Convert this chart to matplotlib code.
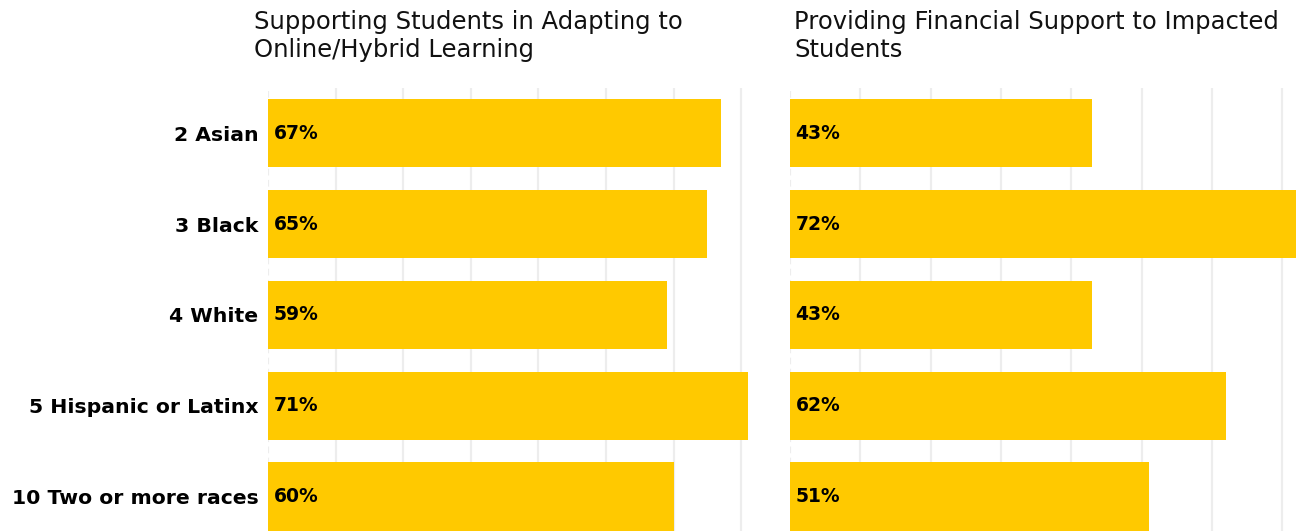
import matplotlib.pyplot as plt

groups = ["2 Asian", "3 Black", "4 White", "5 Hispanic or Latinx", "10 Two or more races"]
online_support = [67, 65, 59, 71, 60]
financial_support = [43, 72, 43, 62, 51]
titles = ["Supporting Students in Adapting to\nOnline/Hybrid Learning",
          "Providing Financial Support to Impacted\nStudents"]

BAR = "#FFC900"
GRID = "#EDEDED"

fig = plt.figure(figsize=(12.99, 5.31), dpi=100)
W, H = 1299, 531

# axes placed in pixel terms: left edge, right edge, x max, values
panels = [
    (268, 758, 72.5, online_support),
    (790, 1299, 72.4, financial_support),
]

ypos = list(range(len(groups)))
for i, (x0, x1, xmax, vals) in enumerate(panels):
    ax = fig.add_axes([x0 / W, 0, (x1 - x0) / W, 1 - 88 / H])
    ax.barh(ypos, vals, height=0.75, color=BAR, zorder=2)
    ax.set_xlim(0, xmax)
    ax.set_ylim(4.38, -0.5)
    for g in range(0, 80, 10):
        ax.axvline(g, color=GRID, lw=1.6, zorder=1,
                   ls=(0, (3, 2)) if g == 0 else "-")
    for s in ax.spines.values():
        s.set_visible(False)
    ax.set_xticks([])
    ax.tick_params(axis="y", length=0, pad=7)
    if i == 0:
        ax.set_yticks(ypos)
        ax.set_yticklabels(groups, fontsize=14.7, fontweight="bold")
    else:
        ax.set_yticks([])
    for y, v in zip(ypos, vals):
        ax.text(0.8, y, f"{v}%", va="center", ha="left",
                fontsize=13.5, fontweight="bold", zorder=3)
    fig.text((x0 - 14) / W if i == 0 else (x0 + 4) / W, 1 - 10 / H, titles[i],
             ha="left", va="top", fontsize=17.5, linespacing=1.2,
             color="#111111")

fig.savefig("out.png", dpi=100)
